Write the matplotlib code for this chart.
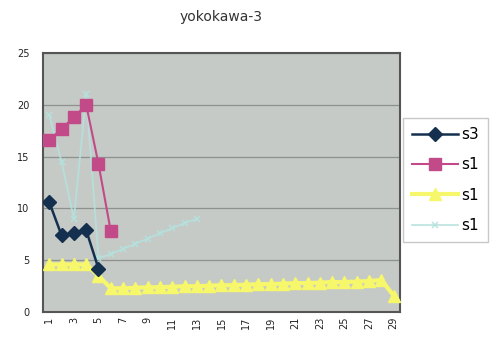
import numpy as np
import matplotlib
matplotlib.use("Agg")
import matplotlib.pyplot as plt

# Categories 1..29
categories = list(range(1, 30))
tick_labels = [str(c) for c in categories[::2]]

nan = np.nan
s3_dark = [10.6, 7.4, 7.6, 7.9, 4.2] + [nan] * 24
s1_pink = [16.6, 17.7, 18.8, 20.0, 14.3, 7.8] + [nan] * 23
s1_yellow = [4.6, 4.6, 4.6, 4.6, 3.5, 2.3, 2.3, 2.35, 2.4, 2.4, 2.45, 2.5, 2.5,
             2.55, 2.6, 2.6, 2.65, 2.7, 2.7, 2.75, 2.8, 2.8, 2.85, 2.9, 2.9,
             2.95, 3.0, 3.1, 1.6]
s1_cyan = [19.0, 14.5, 9.0, 21.0, 5.2, 5.6, 6.1, 6.6, 7.1, 7.6, 8.1, 8.6, 9.0] + [nan] * 16

fig = plt.figure(figsize=(4.96, 3.40), dpi=100)
ax = fig.add_axes([0.087, 0.082, 0.719, 0.762])
ax.set_facecolor("#c6cac6")

ax.plot(categories, s1_yellow, color="#f6f76a", lw=3, marker="^", ms=8,
        mec="#f6f76a", mfc="#f6f76a", label="s1", zorder=3)
ax.plot(categories, s1_cyan, color="#b4e2de", lw=1.3, marker="x", ms=5,
        mew=1.2, label="s1", zorder=2, alpha=0.85)
ax.plot(categories, s1_pink, color="#c24a88", lw=1.5, marker="s", ms=9,
        mec="#c24a88", mfc="#c24a88", label="s1", zorder=4)
ax.plot(categories, s3_dark, color="#14304e", lw=1.8, marker="D", ms=7,
        mec="#14304e", mfc="#14304e", label="s3", zorder=5)

ax.set_xlim(0.5, 29.5)
ax.set_ylim(0, 25)
ax.set_yticks(range(0, 26, 5))
ax.set_xticks(categories[::2])
ax.set_xticklabels(tick_labels, rotation=90)
ax.tick_params(axis="both", length=0, labelsize=7, colors="#222222")
ax.tick_params(axis="y", pad=10)
ax.grid(axis="y", color="#8e928e", lw=0.9)
ax.set_axisbelow(True)
for sp in ax.spines.values():
    sp.set_color("#555555")
    sp.set_linewidth(1.5)

ax.set_title("yokokawa-3", fontsize=10, color="#333333", pad=23)

handles, labels = ax.get_legend_handles_labels()
order = [3, 2, 0, 1]
fig.legend([handles[i] for i in order], [labels[i] for i in order],
           loc="upper left", bbox_to_anchor=(0.8125, 0.653), borderaxespad=0,
           fontsize=11, frameon=True, fancybox=False, edgecolor="#bbbbbb",
           handlelength=3.0, labelspacing=1.0, borderpad=0.6, handletextpad=0.2)

fig.savefig("out.png", dpi=100)
